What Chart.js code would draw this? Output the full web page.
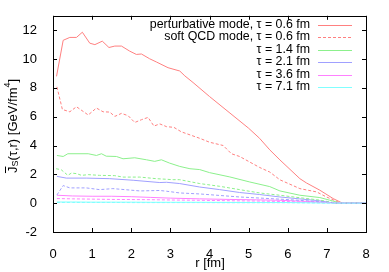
<!DOCTYPE html>
<html>
<head>
<meta charset="utf-8">
<script src="https://cdn.jsdelivr.net/npm/chart.js@4/dist/chart.umd.min.js"></script>
<style>
  html, body { margin: 0; padding: 0; background: #fff; }
  #wrap { width: 389px; height: 272px; }
</style>
</head>
<body>
<div id="wrap"><canvas id="chart" width="389" height="272"></canvas></div>
<script>
// tick labels
const xTicks = [0, 1, 2, 3, 4, 5, 6, 7, 8];
const yTicks = [-2, 0, 2, 4, 6, 8, 10, 12];

// legend labels (only the first six curves get an entry)
const legendLabels = [
  "perturbative mode, \u03c4 = 0.6 fm",
  "soft QCD mode, \u03c4 = 0.6 fm",
  "\u03c4 = 1.4 fm",
  "\u03c4 = 2.1 fm",
  "\u03c4 = 3.6 fm",
  "\u03c4 = 7.1 fm"
];

// tau = 0.6 fm, perturbative
const rPert = [0.09, 0.26, 0.43, 0.6, 0.75, 0.94, 1.07, 1.26, 1.43, 1.58, 1.75, 1.96, 2.13, 2.26, 2.47, 2.64, 2.94, 3.24, 3.37, 3.58, 4.0, 4.5, 5.0, 5.28, 5.54, 5.8, 6.31, 6.48, 6.82, 7.16, 7.4, 8.0];
const jPert = [8.8, 11.3, 11.5, 11.5, 11.86, 11.1, 11.0, 11.24, 10.8, 10.9, 10.9, 10.55, 10.32, 10.35, 10.02, 9.8, 9.4, 9.17, 8.83, 8.37, 7.4, 6.3, 5.2, 4.5, 3.7, 3.0, 1.7, 1.4, 0.9, 0.32, 0.0, 0.0];

// tau = 0.6 fm, soft QCD
const rSoft = [0.1, 0.24, 0.43, 0.6, 0.9, 1.11, 1.28, 1.45, 1.58, 1.75, 1.92, 2.09, 2.26, 2.43, 2.58, 2.73, 2.9, 3.09, 3.28, 3.75, 4.0, 4.35, 4.56, 4.77, 5.28, 5.54, 5.8, 6.31, 6.74, 6.99, 7.33, 8.0];
const jSoft = [8.07, 6.5, 6.34, 6.69, 6.12, 6.6, 6.34, 6.32, 6.02, 6.23, 6.07, 5.6, 5.79, 5.95, 5.35, 5.5, 5.31, 5.26, 4.95, 4.5, 4.23, 4.0, 3.43, 3.24, 2.48, 2.16, 1.62, 1.01, 0.78, 0.43, 0.03, 0.0];

// tau = 1.4 fm
const r14 = [0.1, 0.26, 0.38, 0.9, 1.11, 1.24, 1.36, 1.62, 1.79, 2.09, 2.39, 2.6, 2.77, 2.98, 3.24, 3.5, 3.75, 4.0, 4.52, 5.03, 5.54, 5.8, 6.31, 6.82, 7.07, 7.33, 8.0];
const j14 = [3.31, 3.24, 3.43, 3.43, 3.31, 3.43, 3.26, 3.24, 3.08, 3.15, 3.01, 2.9, 3.01, 2.78, 2.55, 2.39, 2.33, 2.12, 1.82, 1.47, 1.15, 0.85, 0.55, 0.39, 0.21, 0.02, 0.0];
const r14s = [0.08, 0.21, 0.38, 0.47, 0.6, 0.73, 0.9, 1.19, 1.58, 1.79, 2.22, 2.64, 3.07, 3.24, 3.75, 4.26, 4.77, 5.28, 5.8, 6.3, 6.8, 7.25, 8.0];
const j14s = [2.39, 2.32, 1.93, 2.09, 2.05, 1.93, 1.98, 1.93, 1.91, 1.81, 1.81, 1.7, 1.63, 1.63, 1.36, 1.17, 0.94, 0.71, 0.55, 0.38, 0.22, 0.0, 0.0];

// tau = 2.1 fm
const r21 = [0.1, 0.34, 0.85, 1.45, 2.05, 2.73, 2.9, 3.24, 3.75, 4.26, 4.77, 5.28, 5.8, 6.3, 6.8, 7.2, 8.0];
const j21 = [1.86, 1.74, 1.74, 1.7, 1.59, 1.43, 1.45, 1.36, 1.12, 0.94, 0.74, 0.6, 0.43, 0.3, 0.17, 0.0, 0.0];
const r21s = [0.1, 0.26, 0.43, 0.85, 1.19, 1.53, 2.22, 2.73, 2.9, 3.24, 3.75, 4.77, 5.8, 6.4, 7.0, 7.3, 8.0];
const j21s = [0.57, 1.22, 1.06, 1.06, 0.94, 1.01, 0.85, 0.88, 0.83, 0.71, 0.64, 0.43, 0.28, 0.18, 0.08, 0.0, 0.0];

// tau = 3.6 fm and 7.1 fm
const rLate = [0.1, 0.5, 1.0, 1.5, 2.0, 2.5, 3.0, 3.75, 4.5, 5.2, 5.8, 6.5, 7.2, 8.0];
const j36 = [0.55, 0.5, 0.48, 0.48, 0.45, 0.4, 0.35, 0.3, 0.26, 0.23, 0.2, 0.12, 0.02, 0.0];
const j36s = [0.32, 0.3, 0.28, 0.26, 0.25, 0.24, 0.22, 0.2, 0.17, 0.15, 0.12, 0.08, 0.01, 0.0];
const j71 = [0.08, 0.08, 0.07, 0.07, 0.07, 0.06, 0.06, 0.06, 0.05, 0.05, 0.05, 0.03, 0.01, 0.0];
const j71s = [0.05, 0.05, 0.05, 0.05, 0.04, 0.04, 0.04, 0.04, 0.03, 0.03, 0.03, 0.02, 0.0, 0.0];

const colRed = "#ff8080";
const colGreen = "#8cf08c";
const colBlue = "#a0a0ff";
const colMag = "#ff80ff";
const colCyan = "#80ffff";
const legendColors = [colRed, colRed, colGreen, colBlue, colMag, colCyan];
const legendDashes = [[], [3, 2], [], [], [], []];

function pts(xs, ys) {
  return xs.map((x, i) => ({ x: x, y: ys[i] }));
}

function line(label, xs, ys, color, dashed, idx) {
  return {
    label: label,
    data: pts(xs, ys),
    borderColor: color,
    borderWidth: 1,
    borderDash: dashed ? [3, 2] : [],
    pointRadius: 0,
    fill: false,
    tension: 0,
    order: -idx
  };
}

const datasets = [
  line(legendLabels[0], rPert, jPert, colRed, false, 0),
  line(legendLabels[1], rSoft, jSoft, colRed, true, 1),
  line(legendLabels[2], r14, j14, colGreen, false, 2),
  line(legendLabels[3], r21, j21, colBlue, false, 3),
  line(legendLabels[4], rLate, j36, colMag, false, 4),
  line(legendLabels[5], rLate, j71, colCyan, false, 5),
  line("", r14s, j14s, colGreen, true, 6),
  line("", r21s, j21s, colBlue, true, 7),
  line("", rLate, j36s, colMag, true, 8),
  line("", rLate, j71s, colCyan, true, 9)
];

const FONT = "Liberation Sans, Arial, sans-serif";

const framePlugin = {
  id: "frame",
  afterDraw(c) {
    const ctx = c.ctx;
    const a = c.chartArea;
    const xs = c.scales.x, ys = c.scales.y;
    ctx.save();
    ctx.strokeStyle = "#000";
    ctx.lineWidth = 1;
    ctx.strokeRect(Math.round(a.left) + 0.5, Math.round(a.top) + 0.5,
      Math.round(a.right - a.left), Math.round(a.bottom - a.top));
    ctx.beginPath();
    const t = 4;
    xTicks.forEach(v => {
      const px = Math.round(xs.getPixelForValue(v)) + 0.5;
      ctx.moveTo(px, a.bottom); ctx.lineTo(px, a.bottom - t);
      ctx.moveTo(px, a.top); ctx.lineTo(px, a.top + t);
    });
    yTicks.forEach(v => {
      const py = Math.round(ys.getPixelForValue(v)) + 0.5;
      ctx.moveTo(a.left, py); ctx.lineTo(a.left + t, py);
      ctx.moveTo(a.right, py); ctx.lineTo(a.right - t, py);
    });
    ctx.stroke();

    // x title
    ctx.fillStyle = "#000";
    ctx.font = "13px " + FONT;
    ctx.textAlign = "center";
    ctx.textBaseline = "middle";
    ctx.fillText("r [fm]", 210, 263);

    // y title: J-bar_S(tau,r) [GeV/fm^4]
    ctx.save();
    ctx.translate(13, 126);
    ctx.rotate(-Math.PI / 2);
    const big = "13px " + FONT, small = "9px " + FONT;
    const parts = [
      ["J", big, 0], ["S", small, 3], ["(\u03c4,r) [GeV/fm", big, 0], ["4", small, -5], ["]", big, 0]
    ];
    let total = 0;
    parts.forEach(p => { ctx.font = p[1]; total += ctx.measureText(p[0]).width; });
    let x = -total / 2;
    ctx.textAlign = "left";
    ctx.textBaseline = "middle";
    parts.forEach((p, i) => {
      ctx.font = p[1];
      const w = ctx.measureText(p[0]).width;
      ctx.fillText(p[0], x, p[2]);
      if (i === 0) {
        ctx.fillRect(x, -8, w, 1);
      }
      x += w;
    });
    ctx.restore();

    // legend, gnuplot style: right aligned text, sample line on the right
    ctx.font = "12.4px " + FONT;
    ctx.textAlign = "right";
    ctx.textBaseline = "middle";
    ctx.lineWidth = 1;
    legendLabels.forEach((lab, i) => {
      const y = 24.5 + i * 12.5;
      ctx.fillStyle = "#000";
      ctx.fillText(lab, 310, y);
      ctx.strokeStyle = legendColors[i];
      ctx.setLineDash(legendDashes[i]);
      ctx.beginPath();
      ctx.moveTo(318, Math.round(y) + 0.5);
      ctx.lineTo(352, Math.round(y) + 0.5);
      ctx.stroke();
    });
    ctx.restore();
  }
};

new Chart(document.getElementById("chart"), {
  type: "line",
  data: { datasets: datasets },
  options: {
    responsive: false,
    animation: false,
    layout: { padding: { top: 15, right: 23, left: 0, bottom: 0 } },
    plugins: { legend: { display: false }, tooltip: { enabled: false } },
    scales: {
      x: {
        type: "linear",
        min: 0, max: 8,
        grid: { display: false },
        border: { display: false },
        afterBuildTicks: s => { s.ticks = xTicks.map(v => ({ value: v })); },
        afterFit: s => { s.height = 40; },
        ticks: { color: "#000", font: { family: FONT, size: 13 }, padding: 7, maxRotation: 0 }
      },
      y: {
        type: "linear",
        min: -2, max: 13,
        grid: { display: false },
        border: { display: false },
        afterBuildTicks: s => { s.ticks = yTicks.map(v => ({ value: v })); },
        afterFit: s => { s.width = 53; },
        ticks: { color: "#000", font: { family: FONT, size: 13 }, padding: 8 }
      }
    }
  },
  plugins: [framePlugin]
});
</script>
</body>
</html>
